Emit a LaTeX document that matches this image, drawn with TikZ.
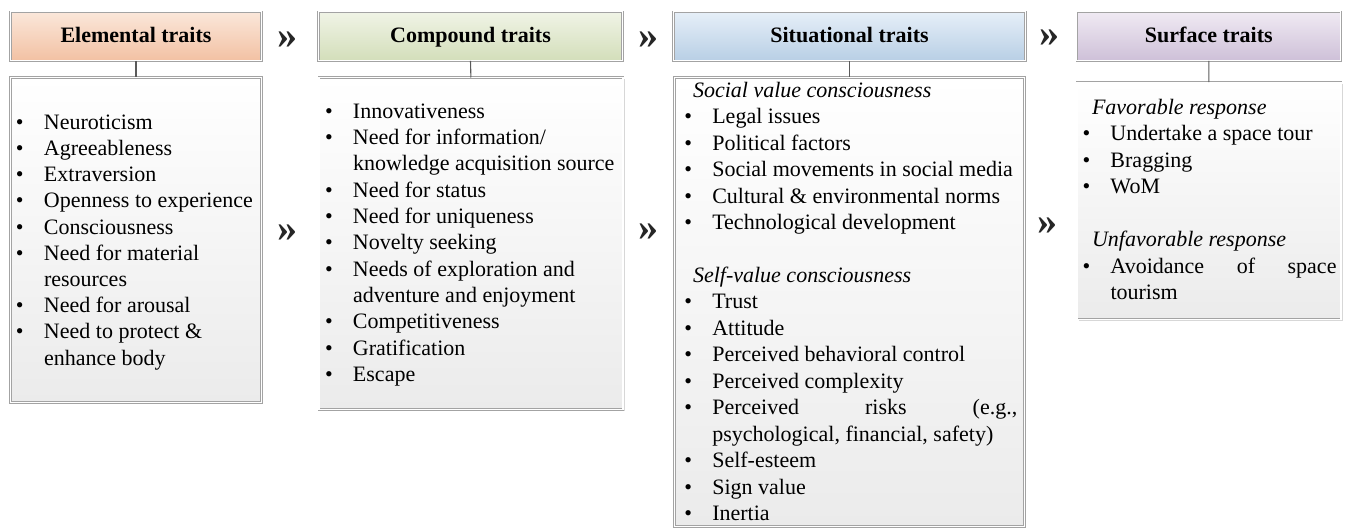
\documentclass[tikz,border=0pt]{standalone}
\usepackage{fontspec}
\setmainfont{Liberation Serif}
\usetikzlibrary{shadows}

\definecolor{frame}{HTML}{A3A3A3}
\definecolor{link}{HTML}{5A5A5A}
\definecolor{bodybot}{HTML}{EBEBEB}
\definecolor{peachtop}{HTML}{FBE7DA}
\definecolor{peachbot}{HTML}{F2C1A3}
\definecolor{greentop}{HTML}{F0F4E6}
\definecolor{greenbot}{HTML}{D3DEBA}
\definecolor{bluetop}{HTML}{E6EFF8}
\definecolor{bluebot}{HTML}{B8CFE5}
\definecolor{lilactop}{HTML}{F0EAF3}
\definecolor{lilacbot}{HTML}{CEC0D8}

% bullet followed by the item text, aligned on a common indent
\newcommand\bul[1]{\makebox[28pt][l]{\textbullet}#1}

\begin{document}
\begin{tikzpicture}[x=1pt,y=-1pt,
  box/.style={draw=frame, line width=0.6pt, double=white, double distance=1.3pt,
    drop shadow={shadow xshift=1.6pt, shadow yshift=-1.6pt, opacity=0.35, fill=black!45},
    inner sep=0pt, outer sep=0pt},
  header/.style={box, font=\fontsize{22}{26}\selectfont\bfseries, text=black,
    minimum height=49pt, text height=15pt, text depth=2pt},
  body/.style={box, top color=white, bottom color=bodybot},
  line/.style={anchor=base west, inner sep=0pt, outer sep=0pt,
    font=\fontsize{22}{26.4}\selectfont},
  sub/.style={line, font=\fontsize{22}{26.4}\selectfont\itshape},
  chev/.style={inner sep=0pt, font=\fontsize{40}{40}\selectfont\bfseries, text=black!85},
  conn/.style={draw=link, line width=1.1pt}]
\useasboundingbox (0,0) rectangle (1347,529);

% ---- column headers ----
\node[header, top color=peachtop, bottom color=peachbot, minimum width=251pt] (h1) at (136,36.3) {Elemental traits};
\node[header, top color=greentop, bottom color=greenbot, minimum width=304pt] (h2) at (470.5,36.3) {Compound traits};
\node[header, top color=bluetop, bottom color=bluebot, minimum width=352pt] (h3) at (849.5,36.3) {Situational traits};
\node[header, top color=lilactop, bottom color=lilacbot, minimum width=264pt] (h4) at (1208.8,36.3) {Surface traits};

% ---- column bodies ----
\node[body, minimum width=251pt, minimum height=325pt] (b1) at (136,240) {};
\node[body, minimum width=304pt, minimum height=332pt] (b2) at (470.9,243.5) {};
\node[body, minimum width=350pt, minimum height=449pt] (b3) at (849.5,302) {};
\node[body, minimum width=264pt, minimum height=237pt] (b4) at (1208.9,200.7) {};

% ---- header-to-body links ----
\draw[conn] (h1.south) -- (b1.north);
\draw[conn] (h2.south) -- (b2.north);
\draw[conn] (h3.south) -- (b3.north);
\draw[conn] (h4.south) -- (b4.north);

% ---- chevrons between columns ----
\node[chev] (c1) at (287,39.7) {»};
\node[chev] (c2) at (648.5,39.7) {»};
\node[chev] (c3) at (1049,38) {»};
\node[chev] (d1) at (287.5,233) {»};
\node[chev] (d2) at (648.8,231.7) {»};
\node[chev] (d3) at (1047,226) {»};

% ---- elemental traits ----
\node[line] (e1) at (16,129.3) {\bul{Neuroticism}};
\node[line] (e2) at (16,155.5) {\bul{Agreeableness}};
\node[line] (e3) at (16,181.7) {\bul{Extraversion}};
\node[line] (e4) at (16,207.9) {\bul{Openness to experience}};
\node[line] (e5) at (16,234.1) {\bul{Consciousness}};
\node[line] (e6) at (16,260.3) {\bul{Need for material}};
\node[line] (e7) at (44,286.5) {resources};
\node[line] (e8) at (16,312.7) {\bul{Need for arousal}};
\node[line] (e9) at (16,338.9) {\bul{Need to protect \&}};
\node[line] (e10) at (44,365.1) {enhance body};

% ---- compound traits ----
\node[line] (p1) at (325,118.3) {\bul{Innovativeness}};
\node[line] (p2) at (325,144.6) {\bul{Need for information/}};
\node[line] (p3) at (353,171.0) {knowledge acquisition source};
\node[line] (p4) at (325,197.3) {\bul{Need for status}};
\node[line] (p5) at (325,223.7) {\bul{Need for uniqueness}};
\node[line] (p6) at (325,250.0) {\bul{Novelty seeking}};
\node[line] (p7) at (325,276.3) {\bul{Needs of exploration and}};
\node[line] (p8) at (353,302.7) {adventure and enjoyment};
\node[line] (p9) at (325,329.0) {\bul{Competitiveness}};
\node[line] (p10) at (325,355.4) {\bul{Gratification}};
\node[line] (p11) at (325,381.7) {\bul{Escape}};

% ---- situational traits ----
\node[sub] (s0) at (693,97.3) {Social value consciousness};
\node[line] (s1) at (684.3,123.8) {\bul{Legal issues}};
\node[line] (s2) at (684.3,150.2) {\bul{Political factors}};
\node[line] (s3) at (684.3,176.7) {\bul{Social movements in social media}};
\node[line] (s4) at (684.3,203.1) {\bul{Cultural \& environmental norms}};
\node[line] (s5) at (684.3,229.6) {\bul{Technological development}};
\node[sub] (t0) at (693,282.5) {Self-value consciousness};
\node[line] (t1) at (684.3,309.0) {\bul{Trust}};
\node[line] (t2) at (684.3,335.4) {\bul{Attitude}};
\node[line] (t3) at (684.3,361.9) {\bul{Perceived behavioral control}};
\node[line] (t4) at (684.3,388.4) {\bul{Perceived complexity}};
\node[line] (t5) at (684.3,414.8) {\bul{\makebox[305pt][s]{Perceived risks (e.g.,}}};
\node[line] (t6) at (712.3,441.3) {psychological, financial, safety)};
\node[line] (t7) at (684.3,467.7) {\bul{Self-esteem}};
\node[line] (t8) at (684.3,494.2) {\bul{Sign value}};
\node[line] (t9) at (684.3,520.7) {\bul{Inertia}};

% ---- surface traits ----
\node[sub] (f0) at (1092,114.3) {Favorable response};
\node[line] (f1) at (1082.5,140.8) {\bul{Undertake a space tour}};
\node[line] (f2) at (1082.5,167.3) {\bul{Bragging}};
\node[line] (f3) at (1082.5,193.8) {\bul{WoM}};
\node[sub] (u0) at (1092,246.8) {Unfavorable response};
\node[line] (u1) at (1082.5,273.3) {\bul{\makebox[226pt][s]{Avoidance of space}}};
\node[line] (u2) at (1110.5,299.8) {tourism};
\end{tikzpicture}
\end{document}
